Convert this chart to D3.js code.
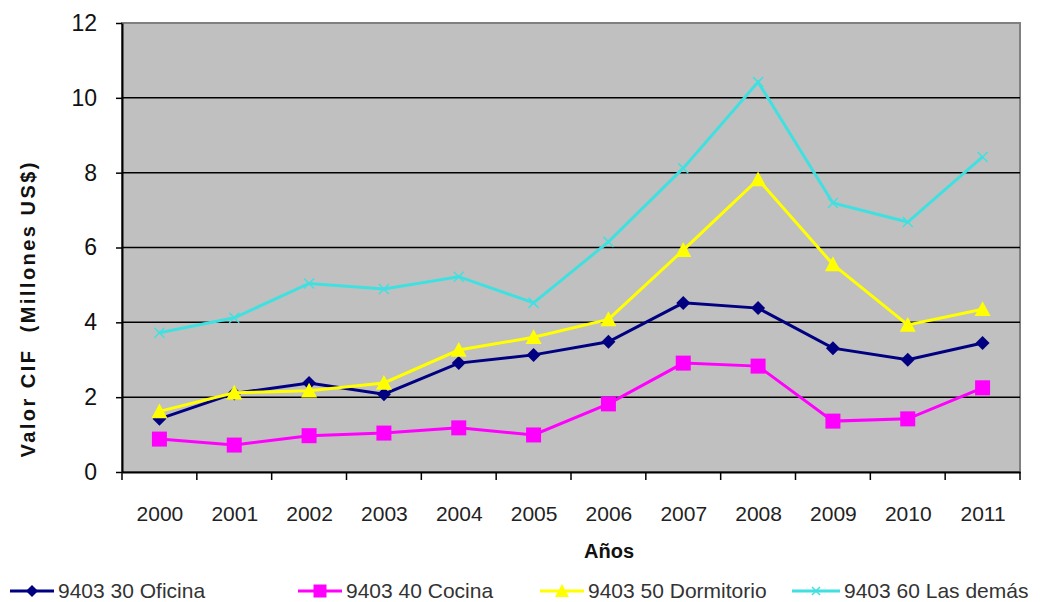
<!DOCTYPE html>
<html>
<head>
<meta charset="utf-8">
<script src="https://cdn.jsdelivr.net/npm/d3@7"></script>
<style>
  body { margin: 0; background: #fff; }
  svg { font-family: "Liberation Sans", Arial, sans-serif; }
</style>
</head>
<body>
<div id="chart"></div>
<script>
//// ============================== DATA ============================== ////

var years = ["2000", "2001", "2002", "2003", "2004", "2005", "2006", "2007", "2008", "2009", "2010", "2011"];
var oficina = [1.42, 2.1, 2.38, 2.08, 2.91, 3.13, 3.48, 4.52, 4.38, 3.31, 3.0, 3.45];
var cocina = [0.88, 0.72, 0.97, 1.04, 1.18, 0.99, 1.82, 2.91, 2.83, 1.36, 1.42, 2.25];
var dormitorio = [1.62, 2.12, 2.17, 2.38, 3.26, 3.6, 4.08, 5.93, 7.82, 5.55, 3.93, 4.35];
var demas = [3.72, 4.12, 5.04, 4.89, 5.22, 4.52, 6.15, 8.12, 10.42, 7.19, 6.68, 8.42];
var yTicks = [0, 2, 4, 6, 8, 10, 12];

var series = [
    { name: "9403 30 Oficina", values: oficina, color: "#000080", marker: "diamond" },
    { name: "9403 40 Cocina", values: cocina, color: "#ff00ff", marker: "square" },
    { name: "9403 50 Dormitorio", values: dormitorio, color: "#ffff00", marker: "triangle" },
    { name: "9403 60 Las demás", values: demas, color: "#40e0e0", marker: "cross" }
];

//// ============================== LAYOUT ============================== ////

var width = 1043, height = 602;
var plot = { left: 122, top: 23, right: 1020, bottom: 472 };

var svg = d3.select("#chart").append("svg")
    .attr("width", width)
    .attr("height", height);

var x = d3.scalePoint()
    .domain(years)
    .range([plot.left, plot.right])
    .padding(0.5);

var xBand = d3.scaleBand()
    .domain(years)
    .range([plot.left, plot.right]);

var y = d3.scaleLinear()
    .domain([0, 12])
    .range([plot.bottom, plot.top]);

// plot background
svg.append("rect")
    .attr("x", plot.left)
    .attr("y", plot.top)
    .attr("width", plot.right - plot.left)
    .attr("height", plot.bottom - plot.top)
    .attr("fill", "#c0c0c0")
    .attr("stroke", "#808080")
    .attr("stroke-width", 2);

// gridlines
svg.selectAll(".grid")
    .data(yTicks.filter(function(d) { return d > 0 && d < 12; }))
    .enter().append("line")
    .attr("class", "grid")
    .attr("x1", plot.left)
    .attr("x2", plot.right)
    .attr("y1", function(d) { return y(d); })
    .attr("y2", function(d) { return y(d); })
    .attr("stroke", "#000")
    .attr("stroke-width", 1.5);

//// ============================== AXES ============================== ////

var yAxis = svg.append("g")
    .attr("transform", "translate(" + plot.left + ",0)")
    .call(d3.axisLeft(y).tickValues(yTicks).tickSize(6).tickSizeOuter(0).tickPadding(19));
yAxis.select(".domain").attr("stroke", "#000").attr("stroke-width", 2);
yAxis.selectAll(".tick line").attr("stroke", "#000").attr("stroke-width", 1.5);
yAxis.selectAll(".tick text")
    .style("font-size", "23px")
    .attr("fill", "#111");

var xAxis = svg.append("g")
    .attr("transform", "translate(0," + plot.bottom + ")")
    .call(d3.axisBottom(x).tickSize(0));
xAxis.select(".domain").attr("stroke", "#000").attr("stroke-width", 2);
xAxis.selectAll(".tick text")
    .attr("y", 49)
    .attr("dy", null)
    .style("font-size", "21px")
    .attr("fill", "#222");

// category boundary ticks
svg.selectAll(".xtick")
    .data(years.map(function(d) { return xBand(d); }).concat([plot.right]))
    .enter().append("line")
    .attr("class", "xtick")
    .attr("x1", function(d) { return d; })
    .attr("x2", function(d) { return d; })
    .attr("y1", plot.bottom)
    .attr("y2", plot.bottom + 8)
    .attr("stroke", "#000")
    .attr("stroke-width", 1.5);

svg.append("text")
    .attr("x", 609)
    .attr("y", 558)
    .attr("text-anchor", "middle")
    .style("font-size", "20px")
    .style("font-weight", "bold")
    .attr("fill", "#111")
    .text("Años");

svg.append("text")
    .attr("transform", "translate(35,310) rotate(-90)")
    .attr("text-anchor", "middle")
    .style("font-size", "20px")
    .style("font-weight", "bold")
    .attr("textLength", 295)
    .attr("lengthAdjust", "spacing")
    .attr("fill", "#111")
    .text("Valor CIF\u00a0\u00a0(Millones US$)");

//// ============================== LINES ============================== ////

function markerPath(type, s) {
    if (type === "diamond") return "M0," + (-s) + "L" + s + ",0L0," + s + "L" + (-s) + ",0Z";
    if (type === "square") return "M" + (-s) + "," + (-s) + "h" + (2 * s) + "v" + (2 * s) + "h" + (-2 * s) + "Z";
    if (type === "triangle") return "M0," + (-s) + "L" + s + "," + (s * 0.85) + "L" + (-s) + "," + (s * 0.85) + "Z";
    return "M" + (-s) + "," + (-s) + "L" + s + "," + s + "M" + s + "," + (-s) + "L" + (-s) + "," + s;
}

var markerSize = { diamond: 7, square: 7.5, triangle: 8, cross: 5 };

var line = d3.line()
    .x(function(d, i) { return x(years[i]); })
    .y(function(d) { return y(d); });

series.forEach(function(s) {
    var g = svg.append("g");
    g.append("path")
        .attr("d", line(s.values))
        .attr("fill", "none")
        .attr("stroke", s.color)
        .attr("stroke-width", 3);

    g.selectAll("path.mk")
        .data(s.values)
        .enter().append("path")
        .attr("class", "mk")
        .attr("transform", function(d, i) { return "translate(" + x(years[i]) + "," + y(d) + ")"; })
        .attr("d", markerPath(s.marker, markerSize[s.marker]))
        .attr("fill", s.marker === "cross" ? "none" : s.color)
        .attr("stroke", s.color)
        .attr("stroke-width", s.marker === "cross" ? 1.5 : 0);
});

//// ============================== LEGEND ============================== ////

var legendX = [10, 298, 540, 792];
var legendLen = [44, 44, 44, 48];

var legend = svg.selectAll(".legend")
    .data(series)
    .enter().append("g")
    .attr("class", "legend")
    .attr("transform", function(d, i) { return "translate(" + legendX[i] + ",591)"; });

legend.append("line")
    .attr("x1", 0)
    .attr("x2", function(d, i) { return legendLen[i]; })
    .attr("stroke", function(d) { return d.color; })
    .attr("stroke-width", 3);

legend.append("path")
    .attr("transform", function(d, i) { return "translate(" + (legendLen[i] / 2) + ",0)"; })
    .attr("d", function(d) { return markerPath(d.marker, markerSize[d.marker] - 1); })
    .attr("fill", function(d) { return d.marker === "cross" ? "none" : d.color; })
    .attr("stroke", function(d) { return d.color; })
    .attr("stroke-width", function(d) { return d.marker === "cross" ? 1.5 : 0; });

legend.append("text")
    .attr("x", function(d, i) { return legendLen[i] + 4; })
    .attr("y", 7)
    .style("font-size", "21px")
    .attr("fill", "#333")
    .text(function(d) { return d.name; });
</script>
</body>
</html>
